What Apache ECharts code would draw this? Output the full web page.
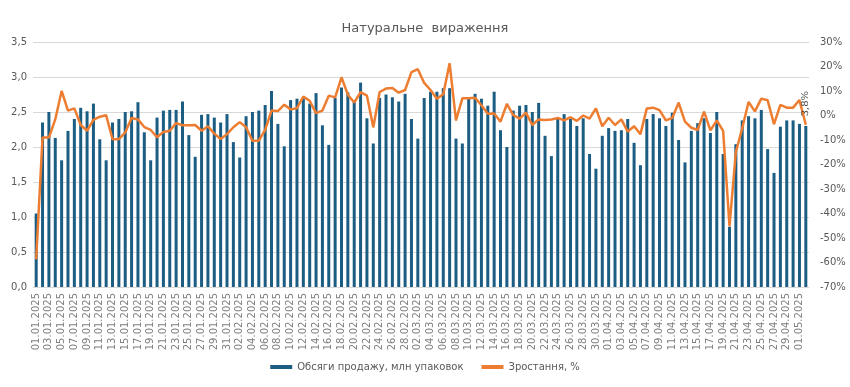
<!DOCTYPE html>
<html>
<head>
<meta charset="utf-8">
<script src="https://cdn.jsdelivr.net/npm/echarts@6/dist/echarts.min.js"></script>
<style>
html,body{margin:0;padding:0;background:#fff;}
#chart{width:850px;height:387px;}
</style>
</head>
<body>
<div id="chart"></div>
<script>
var categories = [
"01.01.2025","02.01.2025","03.01.2025","04.01.2025","05.01.2025","06.01.2025","07.01.2025","08.01.2025","09.01.2025","10.01.2025",
"11.01.2025","12.01.2025","13.01.2025","14.01.2025","15.01.2025","16.01.2025","17.01.2025","18.01.2025","19.01.2025","20.01.2025",
"21.01.2025","22.01.2025","23.01.2025","24.01.2025","25.01.2025","26.01.2025","27.01.2025","28.01.2025","29.01.2025","30.01.2025",
"31.01.2025","01.02.2025","02.02.2025","03.02.2025","04.02.2025","05.02.2025","06.02.2025","07.02.2025","08.02.2025","09.02.2025",
"10.02.2025","11.02.2025","12.02.2025","13.02.2025","14.02.2025","15.02.2025","16.02.2025","17.02.2025","18.02.2025","19.02.2025",
"20.02.2025","21.02.2025","22.02.2025","23.02.2025","24.02.2025","25.02.2025","26.02.2025","27.02.2025","28.02.2025","01.03.2025",
"02.03.2025","03.03.2025","04.03.2025","05.03.2025","06.03.2025","07.03.2025","08.03.2025","09.03.2025","10.03.2025","11.03.2025",
"12.03.2025","13.03.2025","14.03.2025","15.03.2025","16.03.2025","17.03.2025","18.03.2025","19.03.2025","20.03.2025","21.03.2025",
"22.03.2025","23.03.2025","24.03.2025","25.03.2025","26.03.2025","27.03.2025","28.03.2025","29.03.2025","30.03.2025","31.03.2025",
"01.04.2025","02.04.2025","03.04.2025","04.04.2025","05.04.2025","06.04.2025","07.04.2025","08.04.2025","09.04.2025","10.04.2025",
"11.04.2025","12.04.2025","13.04.2025","14.04.2025","15.04.2025","16.04.2025","17.04.2025","18.04.2025","19.04.2025","20.04.2025",
"21.04.2025","22.04.2025","23.04.2025","24.04.2025","25.04.2025","26.04.2025","27.04.2025","28.04.2025","29.04.2025","30.04.2025",
"01.05.2025","02.05.2025"
];

var salesVolume = [
1.05,2.35,2.50,2.13,1.81,2.23,2.40,2.56,2.51,2.62,
2.11,1.81,2.35,2.40,2.50,2.51,2.64,2.21,1.81,2.42,
2.52,2.53,2.53,2.65,2.17,1.86,2.46,2.47,2.42,2.35,
2.47,2.07,1.85,2.44,2.50,2.52,2.60,2.80,2.33,2.01,
2.67,2.69,2.71,2.62,2.77,2.31,2.03,2.70,2.85,2.78,
2.67,2.92,2.41,2.05,2.70,2.75,2.71,2.65,2.76,2.40,
2.12,2.70,2.79,2.79,2.84,2.84,2.12,2.05,2.69,2.76,
2.69,2.59,2.79,2.24,2.00,2.52,2.59,2.60,2.50,2.63,
2.16,1.87,2.40,2.47,2.40,2.30,2.41,1.90,1.69,2.16,
2.27,2.23,2.24,2.40,2.06,1.74,2.40,2.47,2.41,2.30,
2.49,2.10,1.78,2.23,2.34,2.41,2.20,2.50,1.90,0.86,
2.04,2.38,2.44,2.41,2.53,1.97,1.63,2.29,2.38,2.38,
2.33,2.30
];

var growthPct = [
-58.6,-9.0,-9.0,-1.6,10.0,2.0,2.9,-3.9,-6.2,-1.8,
-0.5,0.1,-9.7,-9.7,-6.9,-1.0,-1.6,-4.7,-5.9,-8.9,
-6.7,-6.2,-3.1,-4.0,-4.0,-3.9,-6.2,-4.4,-7.4,-9.6,
-7.6,-4.8,-2.7,-4.8,-10.3,-10.3,-5.9,2.0,1.8,4.4,
2.5,3.0,7.7,6.0,1.0,2.0,8.1,7.4,15.6,8.5,
5.3,9.5,8.1,-4.8,9.6,11.0,11.2,9.3,10.4,17.7,
18.9,13.3,10.4,6.8,8.7,21.3,-2.0,7.0,7.0,7.2,
4.2,0.7,0.8,-2.5,4.7,0.2,-1.3,1.2,-3.9,-1.6,
-1.8,-1.6,-1.0,-2.0,-0.7,-2.2,0.0,-1.3,2.9,-4.4,
-0.9,-3.9,-1.6,-6.6,-4.4,-7.6,2.9,3.2,2.2,-2.0,
-1.0,5.2,-2.5,-5.0,-5.9,1.6,-6.1,-2.0,-6.3,-45.2,
-14.9,-5.2,5.5,1.7,6.9,6.2,-3.5,4.3,3.2,3.2,
6.3,-3.8
];

var seriesNames = ["Обсяги продажу, млн упаковок", "Зростання, %"];
var titleText = "Натуральне  вираження";
var lastLabel = "3,8%";

var FONT = "DejaVu Sans";
var lineData = growthPct.map(function (v, i) {
  if (i === growthPct.length - 1) {
    return {
      value: v,
      label: {
        show: true, position: "top", rotate: 90, distance: 8,
        align: "left", verticalAlign: "middle",
        formatter: lastLabel, color: "#404040", fontSize: 10, fontFamily: "DejaVu Serif"
      }
    };
  }
  return v;
});

var chart = echarts.init(document.getElementById("chart"), null, {renderer: "canvas"});
chart.setOption({
  animation: false,
  backgroundColor: "#ffffff",
  title: {
    text: titleText, left: "center", top: 17,
    textStyle: {fontFamily: FONT, fontSize: 13, fontWeight: "normal", color: "#595959"}
  },
  legend: {
    bottom: 10, left: "center",
    itemWidth: 22, itemHeight: 4, itemGap: 18,
    textStyle: {fontFamily: FONT, fontSize: 10, color: "#595959"},
    data: [
      {name: seriesNames[0], icon: "rect"},
      {name: seriesNames[1], icon: "rect"}
    ]
  },
  grid: {left: 33, right: 41, top: 42, bottom: 100, containLabel: false},
  xAxis: {
    type: "category", data: categories, boundaryGap: true,
    axisLine: {show: true, lineStyle: {color: "#d9d9d9"}},
    axisTick: {show: false},
    axisLabel: {
      interval: 1, rotate: 90, margin: 6,
      fontFamily: FONT, fontSize: 10, color: "#7f7f7f"
    }
  },
  yAxis: [
    {
      type: "value", min: 0, max: 3.5, interval: 0.5,
      axisLine: {show: false}, axisTick: {show: false},
      splitLine: {show: true, lineStyle: {color: "#d9d9d9", width: 1}},
      axisLabel: {
        fontFamily: FONT, fontSize: 10, color: "#595959", margin: 6,
        formatter: function (v) { return v.toFixed(1).replace(".", ","); }
      }
    },
    {
      type: "value", min: -70, max: 30, interval: 10, position: "right",
      axisLine: {show: false}, axisTick: {show: false},
      splitLine: {show: false},
      axisLabel: {
        fontFamily: FONT, fontSize: 10, color: "#595959", margin: 11,
        formatter: function (v) { return v + "%"; }
      }
    }
  ],
  series: [
    {
      name: seriesNames[0], type: "bar", yAxisIndex: 0,
      data: salesVolume, barWidth: 3,
      itemStyle: {color: "#1c5d84"}
    },
    {
      name: seriesNames[1], type: "line", yAxisIndex: 1,
      data: lineData, symbol: "circle", symbolSize: 1, showSymbol: true,
      showAllSymbol: true, smooth: false,
      lineStyle: {color: "#ed7d31", width: 2.5},
      itemStyle: {color: "#ed7d31"}
    }
  ]
});
</script>
</body>
</html>
